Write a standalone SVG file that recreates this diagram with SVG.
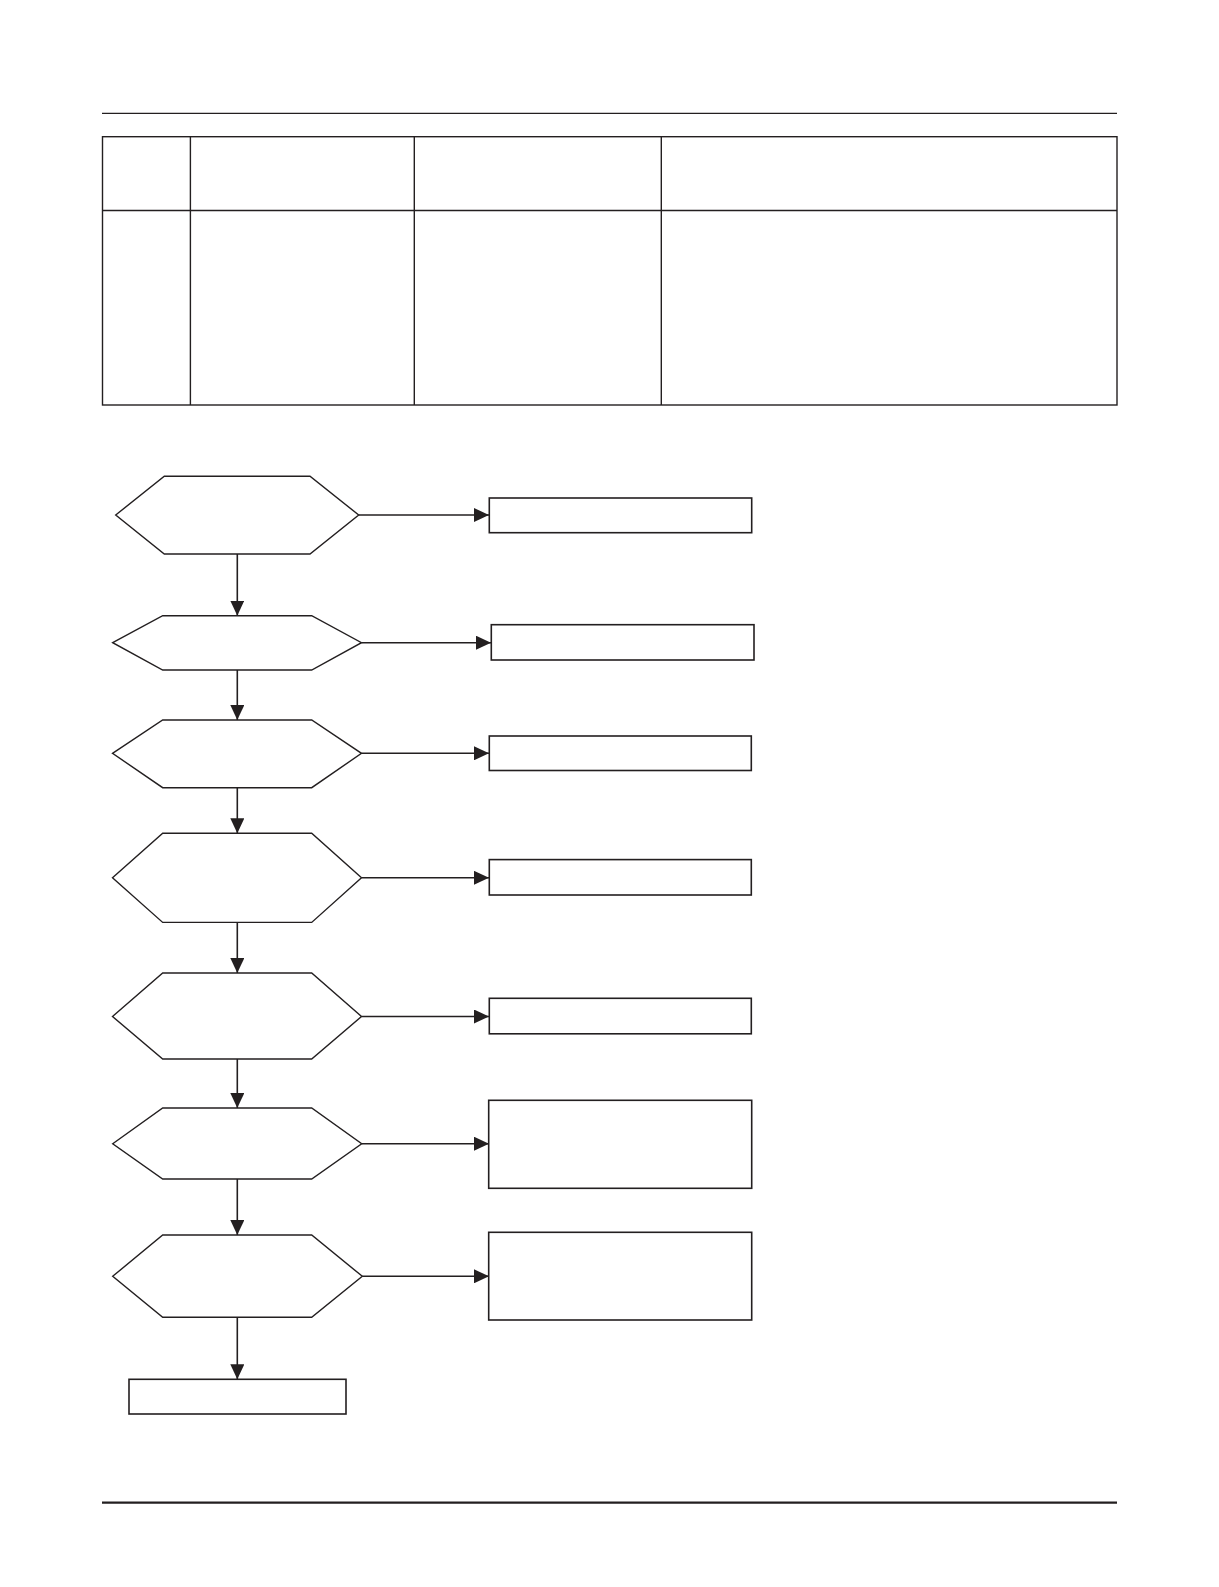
<svg xmlns="http://www.w3.org/2000/svg" width="1219" height="1587" viewBox="0 0 1219 1587">
<style>
.rule{stroke:#231f20;fill:none}
.tbl{stroke:#231f20;fill:none;stroke-width:1.4}
.hex{stroke:#231f20;fill:#fff;stroke-width:1.4;stroke-linejoin:miter}
.box{stroke:#231f20;fill:#fff;stroke-width:1.6}
.con{stroke:#231f20;fill:none;stroke-width:1.6}
</style>
<defs>
<marker id="ah" markerUnits="userSpaceOnUse" viewBox="0 0 15 14" refX="15" refY="7" markerWidth="15" markerHeight="14" orient="auto">
<path d="M0,0 L15,7 L0,14 Z" fill="#231f20"/>
</marker>
</defs>
<rect width="1219" height="1587" fill="#fff"/>
<g id="page">
<line class="rule" x1="102" y1="113.4" x2="1117" y2="113.4" stroke-width="1.4"/>
<line class="rule" x1="102" y1="1502.7" x2="1117" y2="1502.7" stroke-width="2.2"/>
</g>
<g id="table">
<rect class="tbl" x="102.5" y="136.7" width="1014.5" height="268.3"/>
<line class="tbl" x1="102.5" y1="210.5" x2="1117" y2="210.5"/>
<line class="tbl" x1="190.4" y1="136.7" x2="190.4" y2="405"/>
<line class="tbl" x1="414.3" y1="136.7" x2="414.3" y2="405" stroke-width="1.1"/>
<line class="tbl" x1="661.3" y1="136.7" x2="661.3" y2="405"/>
</g>
<g id="connectors">
<line class="con" x1="358.7" y1="515" x2="489" y2="515" marker-end="url(#ah)"/>
<line class="con" x1="361.5" y1="642.7" x2="491" y2="642.7" marker-end="url(#ah)"/>
<line class="con" x1="361.5" y1="753.3" x2="489" y2="753.3" marker-end="url(#ah)"/>
<line class="con" x1="361.5" y1="877.8" x2="489" y2="877.8" marker-end="url(#ah)"/>
<line class="con" x1="361.5" y1="1016.5" x2="489" y2="1016.5" marker-end="url(#ah)"/>
<line class="con" x1="361.7" y1="1143.7" x2="489" y2="1143.7" marker-end="url(#ah)"/>
<line class="con" x1="362.3" y1="1276.3" x2="489" y2="1276.3" marker-end="url(#ah)"/>
<line class="con" x1="237.3" y1="554" x2="237.3" y2="615.7" marker-end="url(#ah)"/>
<line class="con" x1="237.3" y1="670" x2="237.3" y2="720" marker-end="url(#ah)"/>
<line class="con" x1="237.3" y1="787.7" x2="237.3" y2="833.3" marker-end="url(#ah)"/>
<line class="con" x1="237.3" y1="922.4" x2="237.3" y2="973" marker-end="url(#ah)"/>
<line class="con" x1="237.3" y1="1059" x2="237.3" y2="1108" marker-end="url(#ah)"/>
<line class="con" x1="237.3" y1="1179" x2="237.3" y2="1235" marker-end="url(#ah)"/>
<line class="con" x1="237.3" y1="1317.3" x2="237.3" y2="1379.3" marker-end="url(#ah)"/>
</g>
<g id="d1"><polygon class="hex" points="115.7,515 164.3,476.3 310,476.3 358.7,515 310,554 164.3,554"/></g>
<g id="d2"><polygon class="hex" points="112.7,642.7 162.7,615.7 311.7,615.7 361.5,642.7 311.7,670 162.7,670"/></g>
<g id="d3"><polygon class="hex" points="112.5,753.3 162.7,720 311.7,720 361.5,753.3 311.7,787.7 162.7,787.7"/></g>
<g id="d4"><polygon class="hex" points="112.5,877.8 162.7,833.3 311.7,833.3 361.5,877.8 311.7,922.4 162.7,922.4"/></g>
<g id="d5"><polygon class="hex" points="112.5,1016.5 162.7,973 311.7,973 361.5,1016.5 311.7,1059 162.7,1059"/></g>
<g id="d6"><polygon class="hex" points="112.7,1143.7 162.7,1108 311.7,1108 361.7,1143.7 311.7,1179 162.7,1179"/></g>
<g id="d7"><polygon class="hex" points="112.7,1276.3 162.7,1235 311.7,1235 362.3,1276.3 311.7,1317.3 162.7,1317.3"/></g>
<g id="b1"><rect class="box" x="489.3" y="498" width="262.4" height="34.7"/></g>
<g id="b2"><rect class="box" x="491.3" y="624.7" width="262.7" height="35.3"/></g>
<g id="b3"><rect class="box" x="489.3" y="736" width="262" height="34.5"/></g>
<g id="b4"><rect class="box" x="489.3" y="859.6" width="262" height="35.4"/></g>
<g id="b5"><rect class="box" x="489.3" y="998.3" width="262" height="35.5" stroke-width="1.2"/></g>
<g id="b6"><rect class="box" x="488.7" y="1100.3" width="263" height="88"/></g>
<g id="b7"><rect class="box" x="488.7" y="1232.3" width="263" height="87.7"/></g>
<g id="end"><rect class="box" x="129" y="1379.3" width="217" height="34.7" stroke-width="2"/></g>
</svg>
